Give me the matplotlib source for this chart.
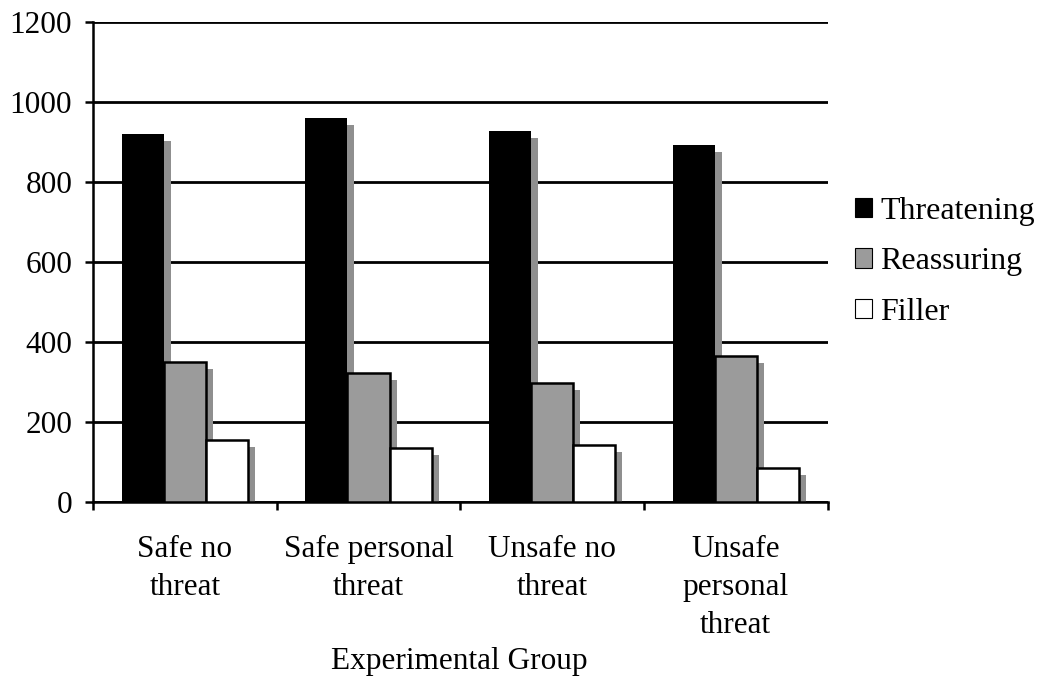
import matplotlib
matplotlib.use("Agg")
import matplotlib.pyplot as plt
import numpy as np
from matplotlib.patches import Patch

plt.rcParams['font.family'] = ['Liberation Serif', 'DejaVu Serif']

groups = ["Safe no\nthreat", "Safe personal\nthreat", "Unsafe no\nthreat", "Unsafe\npersonal\nthreat"]
threatening = [920, 960, 927, 893]
reassuring = [350, 322, 297, 365]
filler = [155, 135, 142, 85]
series_names = ["Threatening", "Reassuring", "Filler"]
y_ticks = [0, 200, 400, 600, 800, 1000, 1200]

FS = 22.5
fig = plt.figure(figsize=(10.45, 6.96), dpi=100)
ax = fig.add_axes([0.089, 0.279, 0.703, 0.689])

x = np.arange(len(groups))
w = 0.229
grey = "#9b9b9b"
shadow_dx = 0.038       # shadow width in category units
shadow_dy = 17.5        # shadow drops below bar top, in data units

styles = [
    dict(color="black", edgecolor="black", linewidth=0),
    dict(color=grey, edgecolor="black", linewidth=1.8),
    dict(color="white", edgecolor="black", linewidth=1.8),
]
all_vals = [threatening, reassuring, filler]
for i, (vals, st) in enumerate(zip(all_vals, styles)):
    pos = x + (i - 1) * w
    v = np.array(vals, dtype=float)
    # drop shadow to the right of each bar
    ax.bar(pos + w / 2 + shadow_dx / 2, v - shadow_dy, width=shadow_dx,
           color="#8f8f8f", linewidth=0, zorder=2)
    ax.bar(pos, v, width=w, zorder=3, **st)

ax.set_xlim(-0.5, len(groups) - 0.5)
ax.set_ylim(0, 1200)
ax.set_yticks(y_ticks)
ax.set_yticklabels([str(t) for t in y_ticks], fontsize=FS)
ax.yaxis.grid(True, color="black", linewidth=2)
ax.set_axisbelow(True)

for s in ["top", "right"]:
    ax.spines[s].set_visible(False)
ax.spines["left"].set_linewidth(1.8)
ax.spines["bottom"].set_linewidth(1.8)
ax.tick_params(axis="y", direction="out", length=6, width=1.8, pad=9)

# category boundaries carry the x ticks; labels sit in between
ax.set_xticks(np.arange(len(groups) + 1) - 0.5)
ax.set_xticklabels([""] * (len(groups) + 1))
ax.tick_params(axis="x", direction="out", length=6, width=1.8)
ax.set_xticks(x, minor=True)
ax.set_xticklabels(groups, minor=True, fontsize=FS, linespacing=1.4)
ax.tick_params(axis="x", which="minor", length=0, pad=24)

fig.text(0.440, 0.050, "Experimental Group", fontsize=FS, ha="center", va="center")

handles = [
    Patch(facecolor="black", edgecolor="black", linewidth=0.8),
    Patch(facecolor=grey, edgecolor="black", linewidth=0.8),
    Patch(facecolor="white", edgecolor="black", linewidth=0.8),
]
fig.legend(handles, series_names, loc="center left", bbox_to_anchor=(0.818, 0.624),
           frameon=False, fontsize=23, handlelength=0.55, handleheight=0.55,
           handletextpad=0.25, labelspacing=0.67, borderaxespad=0, borderpad=0)

fig.savefig("out.png", dpi=100, facecolor="white")
